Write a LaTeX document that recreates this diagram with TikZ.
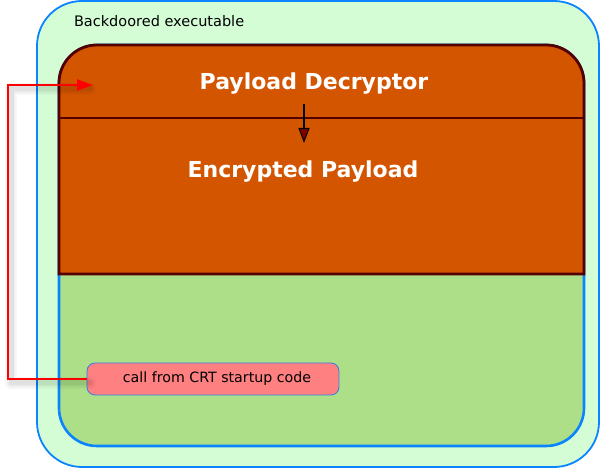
\documentclass[tikz,border=0pt]{standalone}
\usepackage{fontspec}
\setmainfont{DejaVu Sans}
\usepackage{tikz}
\usetikzlibrary{arrows.meta, positioning}
\definecolor{exefill}{RGB}{213,253,213}
\definecolor{exeline}{RGB}{10,132,255}
\definecolor{imgfill}{RGB}{172,223,136}
\definecolor{payfill}{RGB}{212,85,0}
\definecolor{payline}{RGB}{85,0,0}
\definecolor{tipfill}{RGB}{128,0,0}
\definecolor{callfill}{RGB}{255,128,128}
\definecolor{callline}{RGB}{50,125,235}
\tikzstyle{executable}=[draw=exeline, fill=exefill, line width=1.8pt, rounded corners=45pt]
\tikzstyle{image}=[draw=exeline, fill=imgfill, line width=2.6pt, rounded corners=38pt]
\tikzstyle{payload}=[draw=payline, fill=payfill, line width=2.8pt]
\tikzstyle{title}=[text=white, font=\fontsize{22}{26}\selectfont\bfseries]
\tikzstyle{caller}=[draw=callline, fill=callfill, line width=0.8pt, rounded corners=8pt, minimum width=252pt, minimum height=32pt, font=\fontsize{14.2}{17}\selectfont]
\tikzstyle{call}=[draw=red, line width=2.2pt, -{Triangle[length=16pt,width=11pt]}]
\tikzstyle{shadow}=[draw=black, line join=round, line cap=round]

\begin{document}
\begin{tikzpicture}[x=1pt, y=1pt]
    \useasboundingbox (0,0) rectangle (600,468);
    \draw[executable] (37,1) rectangle (599,467);
    \node[anchor=west, font=\fontsize{14.5}{17}\selectfont] (exe) at (70.5,447) {Backdoored executable};
    \draw[image] (59,22) rectangle (584,423);

    % payload area, decryptor on top
    \draw[payload] (59,194) -- (59,385) arc (180:90:38) -- (546,423)
          arc (90:0:38) -- (584,194) -- cycle;
    \draw[payload] (59,350) -- (584,350);
    \node[title] (dec) at (314,384) {Payload Decryptor};
    \node[title] (enc) at (303,296) {Encrypted Payload};
    \coordinate (decout) at (304,364);
    \coordinate (encin) at (304,325);
    \draw[line width=2.2pt, -{Triangle[length=15pt,width=11pt,fill=tipfill,line width=1pt]}] (decout) -- (encin);

    \node[caller] (crt) at (213,89) {\hspace{8pt}call from CRT startup code};
    \coordinate (entry) at (93,383);
    % soft shadow under the call line
    \foreach \w/\o in {12/0.03, 8/0.04, 5/0.05}
        \draw[shadow, line width=\w pt, opacity=\o] ([xshift=3pt,yshift=-4pt]crt.west) -| (11,379) -- (90,379);
    \draw[call] (crt.west) -| (8,383) -- (entry);
\end{tikzpicture}
\end{document}
